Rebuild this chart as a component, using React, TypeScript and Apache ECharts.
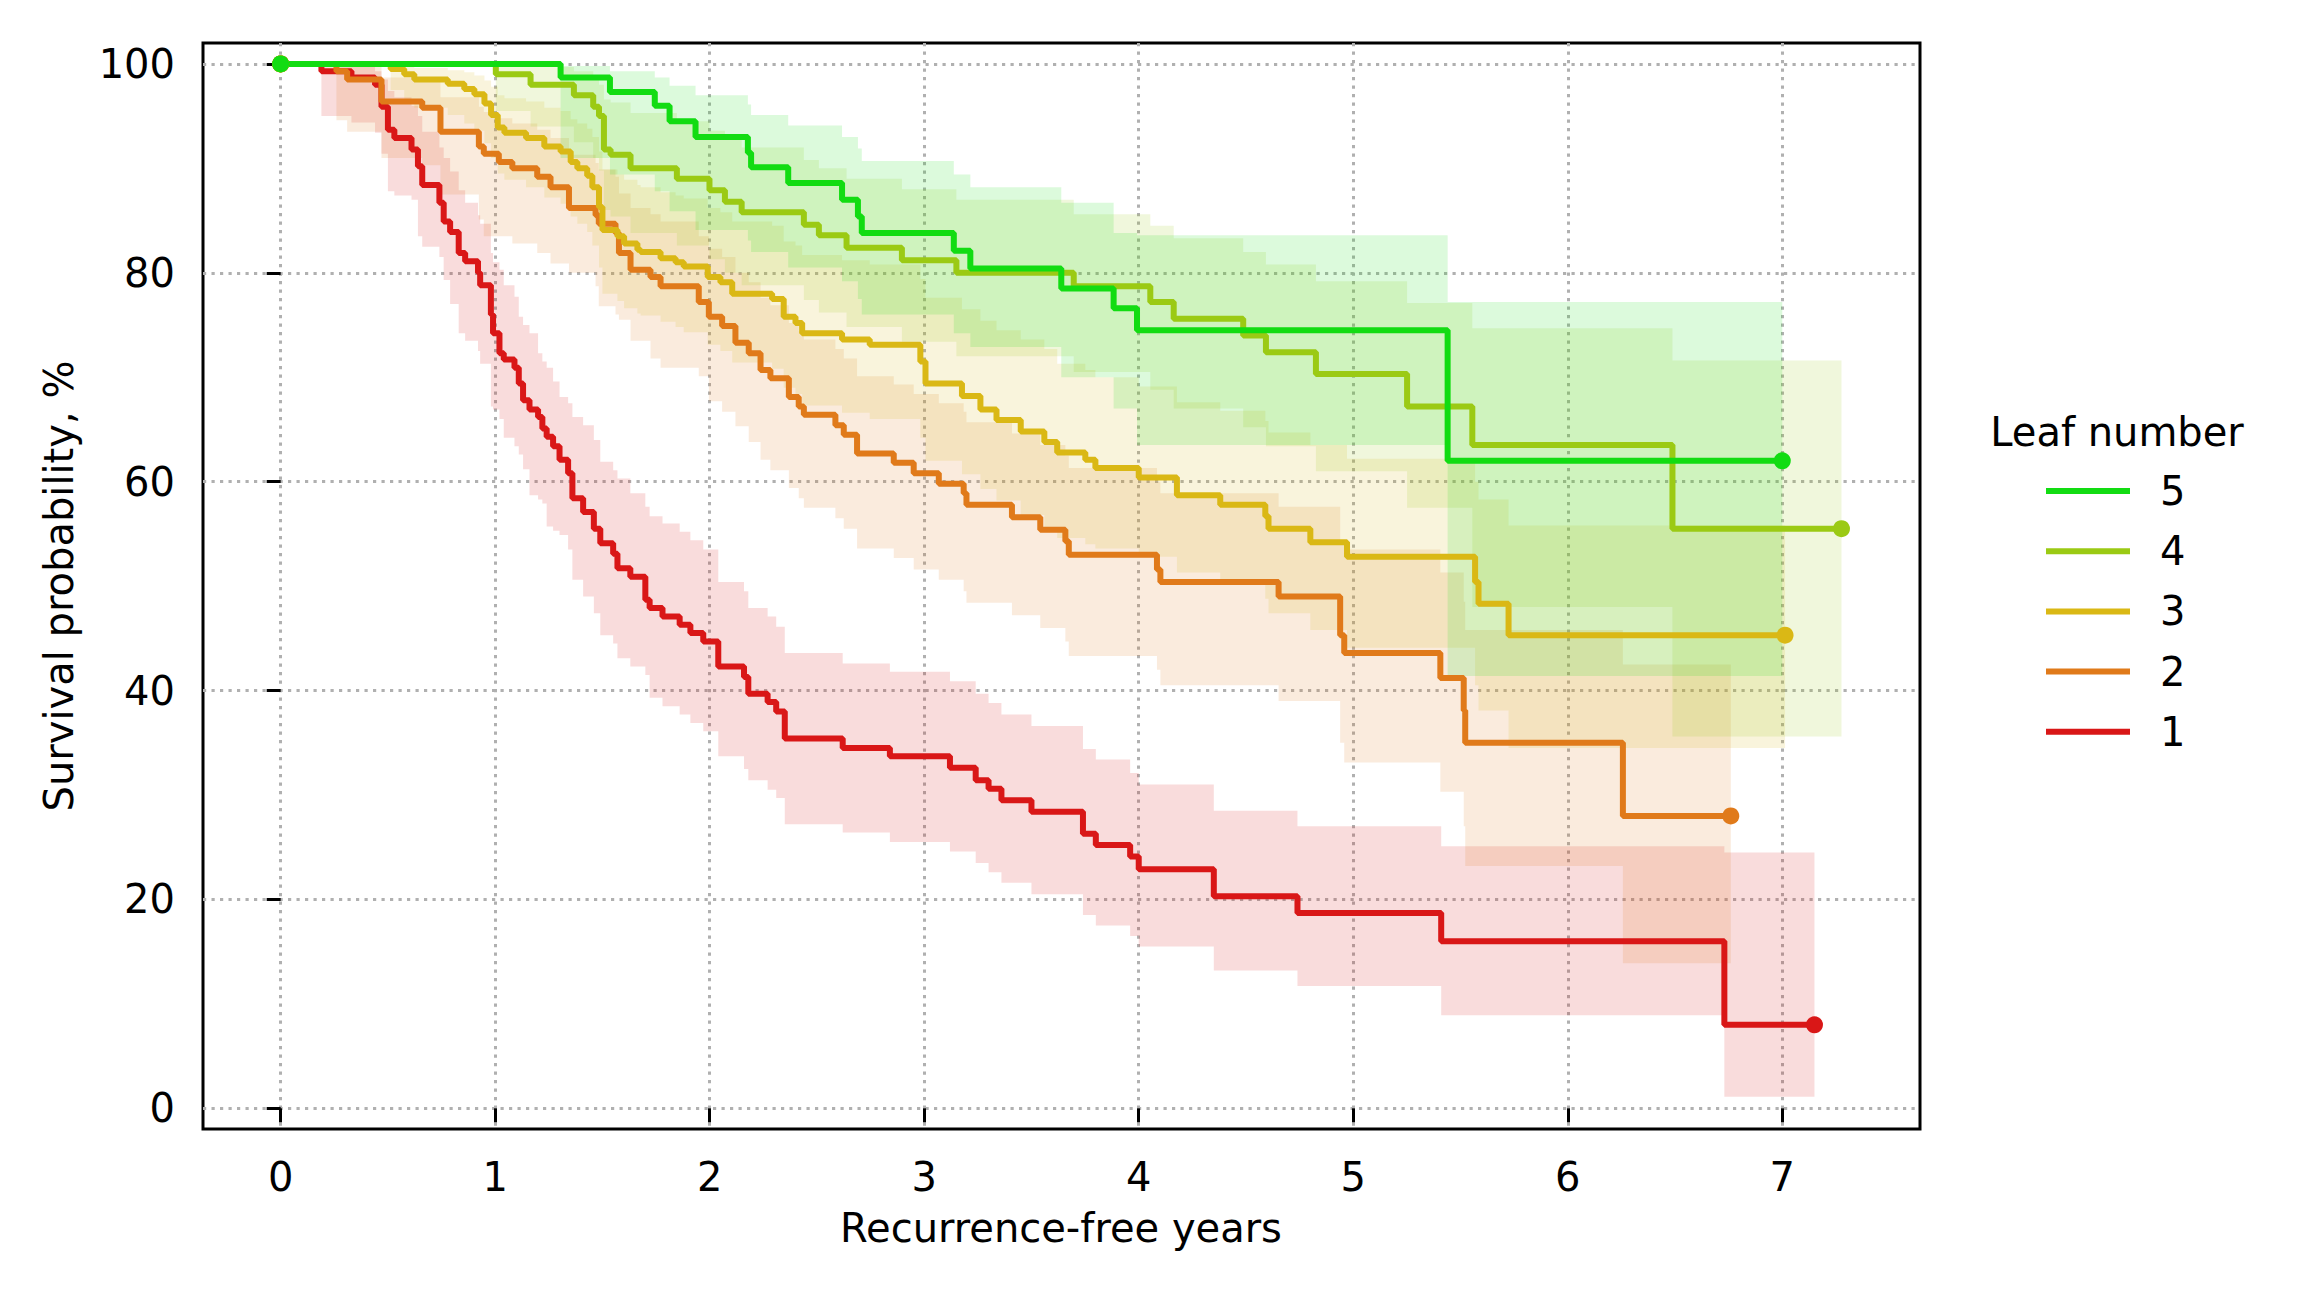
import React, { useEffect, useRef } from "react";
import * as echarts from "echarts";

const FONT = "'DejaVu Sans', 'Liberation Sans', sans-serif";

const xTicks = [0, 1, 2, 3, 4, 5, 6, 7];
const yTicks = [0, 20, 40, 60, 80, 100];

// Leaf number 1
const redT = [0, 0.19, 0.33, 0.44, 0.47, 0.5, 0.53, 0.61, 0.64, 0.66, 0.74, 0.76, 0.79, 0.83, 0.86, 0.92, 0.93, 0.98, 0.99, 1.02, 1.04, 1.09, 1.11, 1.13, 1.16, 1.2, 1.22, 1.24, 1.27, 1.3, 1.34, 1.36, 1.41, 1.46, 1.49, 1.55, 1.57, 1.63, 1.7, 1.72, 1.78, 1.86, 1.91, 1.97, 2.04, 2.16, 2.18, 2.27, 2.31, 2.35, 2.62, 2.84, 3.12, 3.24, 3.3, 3.36, 3.5, 3.74, 3.8, 3.96, 4.0, 4.35, 4.74, 5.41, 6.73, 7.15];
const redS = [100, 99.3, 98.7, 98.0, 95.9, 93.7, 92.9, 91.8, 90.2, 88.4, 86.7, 84.9, 83.9, 81.9, 81.1, 80.0, 78.8, 76.0, 74.2, 72.3, 71.7, 70.9, 69.4, 67.8, 66.9, 66.2, 65.1, 64.3, 63.4, 62.1, 60.8, 58.4, 57.1, 55.5, 54.1, 53.1, 51.7, 50.9, 48.7, 47.9, 47.1, 46.3, 45.5, 44.7, 42.3, 41.3, 39.7, 38.9, 38.0, 35.4, 34.5, 33.7, 32.6, 31.4, 30.6, 29.5, 28.4, 26.3, 25.2, 24.1, 22.9, 20.3, 18.7, 16.0, 8.0, 8.0];
const redLo = [100, 95.0, 94.4, 93.4, 91.4, 87.8, 87.4, 87.0, 83.5, 82.5, 81.5, 79.3, 77.0, 74.2, 73.5, 72.5, 71.3, 67.2, 66.9, 66.0, 64.2, 63.4, 62.6, 61.2, 58.7, 58.3, 57.9, 55.7, 55.3, 54.9, 53.5, 50.6, 49.0, 47.4, 45.3, 44.5, 43.1, 42.3, 41.5, 39.3, 38.5, 37.7, 36.9, 36.1, 33.7, 32.5, 31.4, 30.5, 29.7, 27.2, 26.4, 25.5, 24.6, 23.5, 22.6, 21.6, 20.5, 18.5, 17.5, 16.5, 15.5, 13.2, 11.7, 8.9, 1.1, 1.1];
const redHi = [100, 99.9, 99.7, 99.3, 98.5, 97.4, 96.8, 96.0, 95.0, 93.5, 92.0, 91.0, 89.7, 87.9, 86.7, 85.5, 84.7, 81.9, 81.0, 80.3, 78.8, 77.7, 75.8, 75.0, 74.2, 72.3, 71.5, 70.9, 69.6, 68.1, 67.5, 66.2, 65.4, 64.0, 61.9, 61.1, 60.3, 58.9, 57.6, 56.7, 56.0, 55.2, 54.4, 53.5, 50.4, 49.5, 47.9, 47.1, 46.1, 43.6, 42.6, 41.8, 40.9, 39.7, 38.8, 37.7, 36.6, 34.4, 33.4, 32.1, 31.0, 28.5, 27.0, 25.1, 24.5, 24.5];

// Leaf number 2
const orT = [0, 0.26, 0.31, 0.47, 0.66, 0.745, 0.924, 0.947, 1.017, 1.08, 1.196, 1.258, 1.344, 1.468, 1.483, 1.561, 1.577, 1.631, 1.724, 1.771, 1.949, 1.996, 2.058, 2.12, 2.182, 2.237, 2.283, 2.369, 2.415, 2.439, 2.586, 2.625, 2.687, 2.858, 2.951, 3.068, 3.184, 3.197, 3.409, 3.541, 3.658, 3.674, 4.085, 4.101, 4.652, 4.939, 4.958, 5.406, 5.515, 5.522, 6.257, 6.76];
const orS = [100, 99.3, 98.5, 96.4, 95.8, 93.5, 92.1, 91.4, 90.6, 90.0, 89.2, 88.2, 86.2, 85.5, 84.7, 83.8, 81.9, 80.3, 79.6, 78.7, 77.2, 75.8, 74.9, 73.3, 72.3, 70.7, 69.9, 68.1, 67.2, 66.4, 65.4, 64.5, 62.7, 61.8, 60.8, 59.8, 58.9, 57.8, 56.6, 55.4, 54.3, 53.0, 51.6, 50.4, 49.0, 45.3, 43.6, 41.2, 38.1, 35.0, 28.0, 28.0];
const orLo = [100, 94.6, 93.5, 91.0, 90.3, 87.5, 85.1, 83.5, 83.5, 82.8, 81.9, 80.9, 80.0, 78.7, 76.8, 76.0, 75.5, 73.5, 71.8, 70.9, 70.1, 67.7, 66.7, 65.3, 63.8, 62.1, 61.1, 59.4, 58.4, 57.5, 56.5, 55.5, 53.6, 52.7, 51.6, 50.6, 49.5, 48.4, 47.2, 46.0, 44.7, 43.3, 42.0, 40.5, 39.0, 35.0, 33.1, 30.3, 27.0, 23.2, 13.9, 13.9];
const orHi = [100, 99.9, 99.7, 98.7, 98.4, 96.8, 95.9, 95.4, 94.8, 94.3, 93.7, 92.9, 91.3, 90.5, 89.9, 89.2, 87.6, 86.2, 85.6, 84.9, 83.5, 82.3, 81.5, 80.0, 79.1, 77.6, 76.9, 75.2, 74.4, 73.6, 72.7, 71.8, 70.1, 69.3, 68.4, 67.5, 66.7, 65.7, 64.6, 63.5, 62.5, 61.3, 60.0, 58.9, 57.6, 54.3, 53.5, 51.3, 48.5, 45.8, 42.5, 42.5];

// Leaf number 3
const goT = [0, 0.513, 0.576, 0.623, 0.779, 0.856, 0.903, 0.95, 0.981, 1.012, 1.043, 1.144, 1.229, 1.305, 1.352, 1.383, 1.429, 1.453, 1.484, 1.5, 1.57, 1.601, 1.663, 1.678, 1.771, 1.841, 1.879, 1.991, 2.05, 2.105, 2.291, 2.345, 2.4, 2.431, 2.617, 2.746, 2.982, 3.006, 3.176, 3.262, 3.337, 3.45, 3.56, 3.62, 3.751, 3.798, 4.0, 4.178, 4.38, 4.59, 4.605, 4.8, 4.971, 5.568, 5.584, 5.724, 7.013];
const goS = [100, 99.5, 99.0, 98.5, 98.1, 97.6, 97.1, 96.2, 95.1, 93.9, 93.4, 92.9, 92.1, 91.6, 90.6, 90.0, 89.3, 88.2, 86.3, 84.1, 83.5, 82.8, 82.2, 82.0, 81.4, 81.0, 80.6, 79.6, 79.1, 78.0, 77.5, 75.8, 75.2, 74.2, 73.6, 73.1, 71.5, 69.4, 68.2, 66.9, 65.9, 64.8, 63.8, 62.8, 62.1, 61.3, 60.4, 58.7, 57.8, 56.7, 55.5, 54.2, 52.8, 50.4, 48.3, 45.3, 45.3];
const goLo = [100, 97.5, 96.6, 95.8, 95.1, 94.3, 93.6, 92.4, 91.0, 89.5, 88.9, 88.2, 87.2, 86.6, 85.4, 84.7, 83.9, 82.6, 80.5, 78.0, 77.3, 76.6, 76.1, 75.9, 75.3, 74.8, 74.3, 73.1, 72.5, 71.4, 70.8, 69.0, 68.4, 67.3, 66.6, 66.0, 64.2, 62.0, 60.7, 59.3, 58.2, 56.8, 55.6, 54.6, 54.0, 53.6, 52.8, 51.3, 50.2, 48.8, 47.4, 45.8, 44.1, 40.5, 38.1, 34.5, 34.5];
const goHi = [100, 99.9, 99.8, 99.6, 99.4, 99.2, 98.9, 98.4, 97.8, 97.0, 96.7, 96.4, 95.8, 95.5, 94.7, 94.3, 93.8, 93.0, 91.6, 89.9, 89.4, 88.9, 88.4, 88.2, 87.7, 87.4, 87.1, 86.2, 85.8, 84.9, 84.5, 83.0, 82.6, 81.7, 81.2, 80.8, 79.4, 77.6, 76.5, 75.4, 74.5, 73.6, 72.7, 71.3, 70.7, 70.0, 69.1, 67.6, 66.8, 65.8, 64.7, 63.5, 62.2, 60.0, 58.3, 55.8, 55.8];

// Leaf number 4
const ygT = [0, 1.003, 1.165, 1.367, 1.457, 1.484, 1.507, 1.538, 1.631, 1.847, 1.999, 2.071, 2.149, 2.439, 2.509, 2.638, 2.896, 3.15, 3.697, 4.054, 4.163, 4.487, 4.593, 4.826, 5.251, 5.555, 6.488, 7.276];
const ygS = [100, 99.0, 98.0, 97.0, 95.9, 95.0, 91.8, 91.3, 90.0, 89.0, 87.9, 86.8, 85.8, 84.6, 83.6, 82.4, 81.2, 80.0, 78.7, 77.2, 75.6, 74.0, 72.4, 70.3, 67.2, 63.5, 55.5, 55.5];
const ygLo = [100, 95.5, 94.0, 92.5, 91.0, 89.8, 86.0, 85.4, 83.8, 82.6, 81.3, 80.0, 78.8, 77.4, 76.2, 74.8, 73.4, 72.0, 70.5, 68.8, 67.0, 65.2, 63.4, 61.0, 57.5, 48.0, 35.6, 35.6];
const ygHi = [100, 99.9, 99.7, 99.3, 98.6, 98.0, 96.6, 96.3, 95.3, 94.5, 93.6, 92.8, 92.0, 90.8, 90.0, 89.0, 88.0, 87.0, 85.6, 84.5, 83.3, 82.0, 80.8, 79.2, 77.1, 74.7, 71.6, 71.6];

// Leaf number 5
const grT = [0, 1.305, 1.535, 1.744, 1.813, 1.934, 2.178, 2.193, 2.366, 2.617, 2.691, 2.709, 3.138, 3.215, 3.639, 3.883, 3.992, 5.44, 7.0];
const grS = [100, 98.7, 97.3, 96.0, 94.5, 93.0, 91.5, 90.1, 88.6, 87.0, 85.4, 83.8, 82.1, 80.4, 78.5, 76.6, 74.5, 62.0, 62.0];
const grLo = [100, 91.0, 89.4, 87.8, 85.9, 84.1, 83.1, 82.0, 80.5, 79.2, 77.5, 76.0, 74.2, 72.9, 70.0, 67.0, 63.5, 41.4, 41.4];
const grHi = [100, 99.8, 99.3, 98.7, 97.9, 97.0, 96.1, 95.1, 94.1, 93.0, 91.9, 90.7, 89.4, 88.2, 86.7, 83.8, 83.6, 77.2, 77.2];

const groups = [
  { name: "1", color: "#d91717", t: redT, s: redS, lo: redLo, hi: redHi },
  { name: "2", color: "#e07a1a", t: orT, s: orS, lo: orLo, hi: orHi },
  { name: "3", color: "#dab815", t: goT, s: goS, lo: goLo, hi: goHi },
  { name: "4", color: "#9bca14", t: ygT, s: ygS, lo: ygLo, hi: ygHi },
  { name: "5", color: "#12dc12", t: grT, s: grS, lo: grLo, hi: grHi },
];

function withAlpha(hex: string, a: number) {
  const n = parseInt(hex.slice(1), 16);
  return `rgba(${(n >> 16) & 255},${(n >> 8) & 255},${n & 255},${a})`;
}

const textStyle = (text: string, extra: any = {}) => ({
  text,
  fontSize: 40,
  fontFamily: FONT,
  fill: "#000",
  ...extra,
});

function buildOption() {
  const series: any[] = [];

  // confidence bands: one post-step polygon per group
  groups.forEach((g) => {
    const n = g.t.length;
    series.push({
      type: "custom",
      name: "band " + g.name,
      coordinateSystem: "cartesian2d",
      data: g.t.map((t, k) => [t, g.lo[k], g.hi[k]]),
      encode: { x: 0, y: [1, 2] },
      silent: true,
      z: 1,
      renderItem: (params: any, api: any) => {
        if (params.dataIndex !== 0) return null;
        const pts: number[][] = [];
        for (let k = 0; k < n - 1; k++) {
          pts.push(api.coord([g.t[k], g.hi[k]]));
          pts.push(api.coord([g.t[k + 1], g.hi[k]]));
        }
        for (let k = n - 2; k >= 0; k--) {
          pts.push(api.coord([g.t[k + 1], g.lo[k]]));
          pts.push(api.coord([g.t[k], g.lo[k]]));
        }
        return {
          type: "polygon",
          shape: { points: pts },
          style: { fill: withAlpha(g.color, 0.15), stroke: "none" },
        };
      },
    });
  });

  groups.forEach((g) => {
    const last = g.t.length - 1;
    series.push({
      type: "line",
      name: g.name,
      step: "end",
      data: g.t.map((t, k) => [t, g.s[k]]),
      symbol: "none",
      lineStyle: { color: g.color, width: 6 },
      z: 2,
    });
    series.push({
      type: "scatter",
      name: "ends " + g.name,
      data: [
        [g.t[0], g.s[0]],
        [g.t[last], g.s[last]],
      ],
      symbolSize: 17,
      itemStyle: { color: g.color, opacity: 1 },
      z: 3,
    });
  });

  const legendTop = 491;
  const legendStep = 60.2;
  const legendItems: any[] = [];
  [...groups].reverse().forEach((g, i) => {
    const y = legendTop + i * legendStep;
    legendItems.push({
      type: "line",
      shape: { x1: 2046, y1: y, x2: 2130, y2: y },
      style: { stroke: g.color, lineWidth: 6 },
    });
    legendItems.push({
      type: "text",
      x: 2160,
      y,
      style: textStyle(g.name, { align: "left", verticalAlign: "middle" }),
    });
  });

  const splitLine = {
    show: true,
    lineStyle: { color: "#b0b0b0", width: 3, type: [3.2, 5.3] },
  };

  return {
    animation: false,
    backgroundColor: "#ffffff",
    grid: {
      left: 203,
      top: 43,
      width: 1717,
      height: 1086,
      show: true,
      borderColor: "#000",
      borderWidth: 3,
      backgroundColor: "rgba(0,0,0,0)",
    },
    xAxis: {
      type: "value",
      min: -0.362,
      max: 7.642,
      splitNumber: 8,
      axisLine: { show: false },
      axisTick: {
        show: true,
        inside: false,
        length: 14,
        lineStyle: { color: "#000", width: 3 },
        customValues: xTicks,
      },
      axisLabel: {
        customValues: xTicks,
        fontSize: 40,
        fontFamily: FONT,
        color: "#000",
        margin: 28,
      },
      splitLine,
    },
    yAxis: {
      type: "value",
      min: -1.98,
      max: 102,
      splitNumber: 5,
      axisLine: { show: false },
      axisTick: {
        show: true,
        inside: false,
        length: 14,
        lineStyle: { color: "#000", width: 3 },
        customValues: yTicks,
      },
      axisLabel: {
        customValues: yTicks,
        fontSize: 40,
        fontFamily: FONT,
        color: "#000",
        margin: 28,
      },
      splitLine,
    },
    graphic: [
      {
        type: "text",
        x: 59,
        y: 586,
        rotation: Math.PI / 2,
        style: textStyle("Survival probability, %", { align: "center", verticalAlign: "middle" }),
      },
      {
        type: "text",
        x: 1061,
        y: 1228,
        style: textStyle("Recurrence-free years", { align: "center", verticalAlign: "middle" }),
      },
      {
        type: "text",
        x: 2117,
        y: 432,
        style: textStyle("Leaf number", { align: "center", verticalAlign: "middle" }),
      },
      ...legendItems,
    ],
    series,
  };
}

export default function App() {
  const ref = useRef<HTMLDivElement>(null);
  useEffect(() => {
    if (!ref.current) return;
    const chart = echarts.init(ref.current, undefined, { renderer: "svg" });
    chart.setOption(buildOption() as any);
    return () => chart.dispose();
  }, []);
  return (
    <div
      ref={ref}
      style={{ position: "fixed", left: 0, top: 0, width: 2304, height: 1296, background: "#fff" }}
    />
  );
}
